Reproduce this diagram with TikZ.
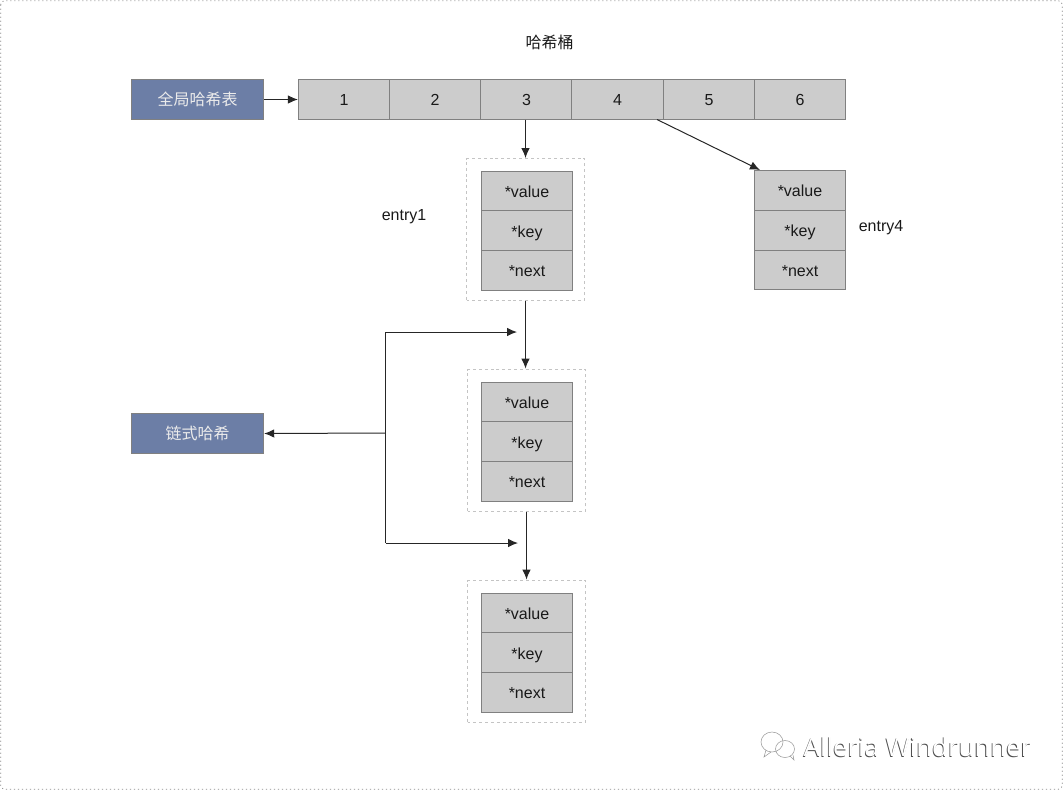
\documentclass[tikz,border=0pt]{standalone}
\usepackage{fontspec}
\setmainfont{Liberation Sans}
\newfontfamily\cjk{Noto Sans CJK SC}
\newfontfamily\wm{Open Sans}
\usetikzlibrary{arrows.meta}
\definecolor{cellgray}{HTML}{CCCCCC}
\definecolor{edgegray}{HTML}{808080}
\definecolor{bluebox}{HTML}{6C7EA6}
\definecolor{dashgray}{HTML}{C4C4C4}
\tikzset{
  cell/.style={draw=edgegray,fill=cellgray,line width=.75pt,minimum width=68.4pt,minimum height=30pt,inner sep=0pt,font=\fontsize{12}{14}\selectfont,text=black!90,text height=8.6pt,text depth=0pt},
  fieldcell/.style={cell,minimum height=29.8pt,text height=9.6pt},
  labelbox/.style={draw=edgegray,fill=bluebox,line width=.6pt,minimum width=99.5pt,minimum height=30.5pt,inner sep=0pt,text=white!92!black,font=\cjk\fontsize{12}{14}\selectfont},
  plain/.style={inner sep=0pt,font=\fontsize{12}{14}\selectfont,text=black!90},
  group/.style={draw=dashgray,dash pattern=on 2.2pt off 2.2pt,line width=.6pt,minimum width=88.5pt,minimum height=106.5pt,inner sep=0pt},
  conn/.style={line width=.75pt,draw=black!85,-{Latex[length=7.5pt,width=6.4pt]}}
}
\begin{document}
\begin{tikzpicture}[x=.75pt,y=-.75pt]
\useasboundingbox (0,0) rectangle (1063,790);
\draw[rounded corners=3pt,draw=black!45,dash pattern=on .8pt off 2.2pt,line width=.6pt] (.7,.7) rectangle (1062.3,789.3);

\node[plain,font=\cjk\fontsize{12}{14}\selectfont] (title) at (549.5,42.5) {哈希桶};
\node[labelbox] (global) at (197.5,99.5) {全局哈希表};
\node[labelbox] (chain) at (197.5,433.5) {链式哈希};

\foreach \n/\x in {1/344,2/435,3/526.5,4/617.5,5/709,6/800}
  \node[cell] (b\n) at (\x,99.5) {\n};

% entry groups
\node[group] (g1) at (525.5,229.5) {};
\node[group] (g2) at (526.5,440.5) {};
\node[group] (g3) at (526.5,651.5) {};

\foreach \g/\x/\y in {a/527/191,b/527/402,c/527/613,d/800/190.5}{
  \node[fieldcell] (\g v) at (\x,\y) {*value};
  \node[fieldcell] (\g k) at (\x,\y+39.7) {*key};
  \node[fieldcell] (\g n) at (\x,\y+79.4) {*next};
}

\node[plain] (e1) at (404,217) {entry1};
\node[plain] (e4) at (881,228) {entry4};

\coordinate (j1) at (385.5,433);
\coordinate (c1) at (385.5,332);
\coordinate (c2) at (385.5,543);
\coordinate (t1) at (517,332);
\coordinate (t2) at (518,543);
\coordinate (b4s) at (657,119.5);
\coordinate (s3) at (525.5,119.5);
\coordinate (t3) at (525.5,158);
\coordinate (s4) at (525.5,300.5);
\coordinate (t4) at (525.5,368.5);
\coordinate (s5) at (526.5,511.5);
\coordinate (t5) at (526.5,579.5);
\coordinate (t6) at (760,170);

\draw[conn] (global.east) -- (b1.west);
\draw[conn] (s3) -- (t3);
\draw[conn] (b4s) -- (t6);
\draw[conn] (s4) -- (t4);
\draw[conn] (s5) -- (t5);
\draw[conn] (j1) -- (chain.east);
\draw[conn] (c1) -- (t1);
\draw[conn] (c2) -- (t2);
\draw[line width=.75pt,draw=black!85] (c1) -- (c2);

% watermark
\begin{scope}[draw=black!40,line width=.4pt,fill=white]
  \draw (772,742) circle [x radius=11,y radius=10];
  \draw (766,750) -- (764,757) -- (771,752);
  \draw (785,749) circle [x radius=9.5,y radius=8.5];
  \draw (790,756) -- (794,760) -- (793,755);
\end{scope}
\node[inner sep=0pt,anchor=west,text=black!70,font=\wm\fontsize{19.4}{22}\selectfont] (wm0) at (802.6,747.5) {Alleria Windrunner};
\node[inner sep=0pt,anchor=west,text=white,font=\wm\fontsize{19.4}{22}\selectfont] (wm1) at (803.4,746.9) {Alleria Windrunner};
\end{tikzpicture}
\end{document}
